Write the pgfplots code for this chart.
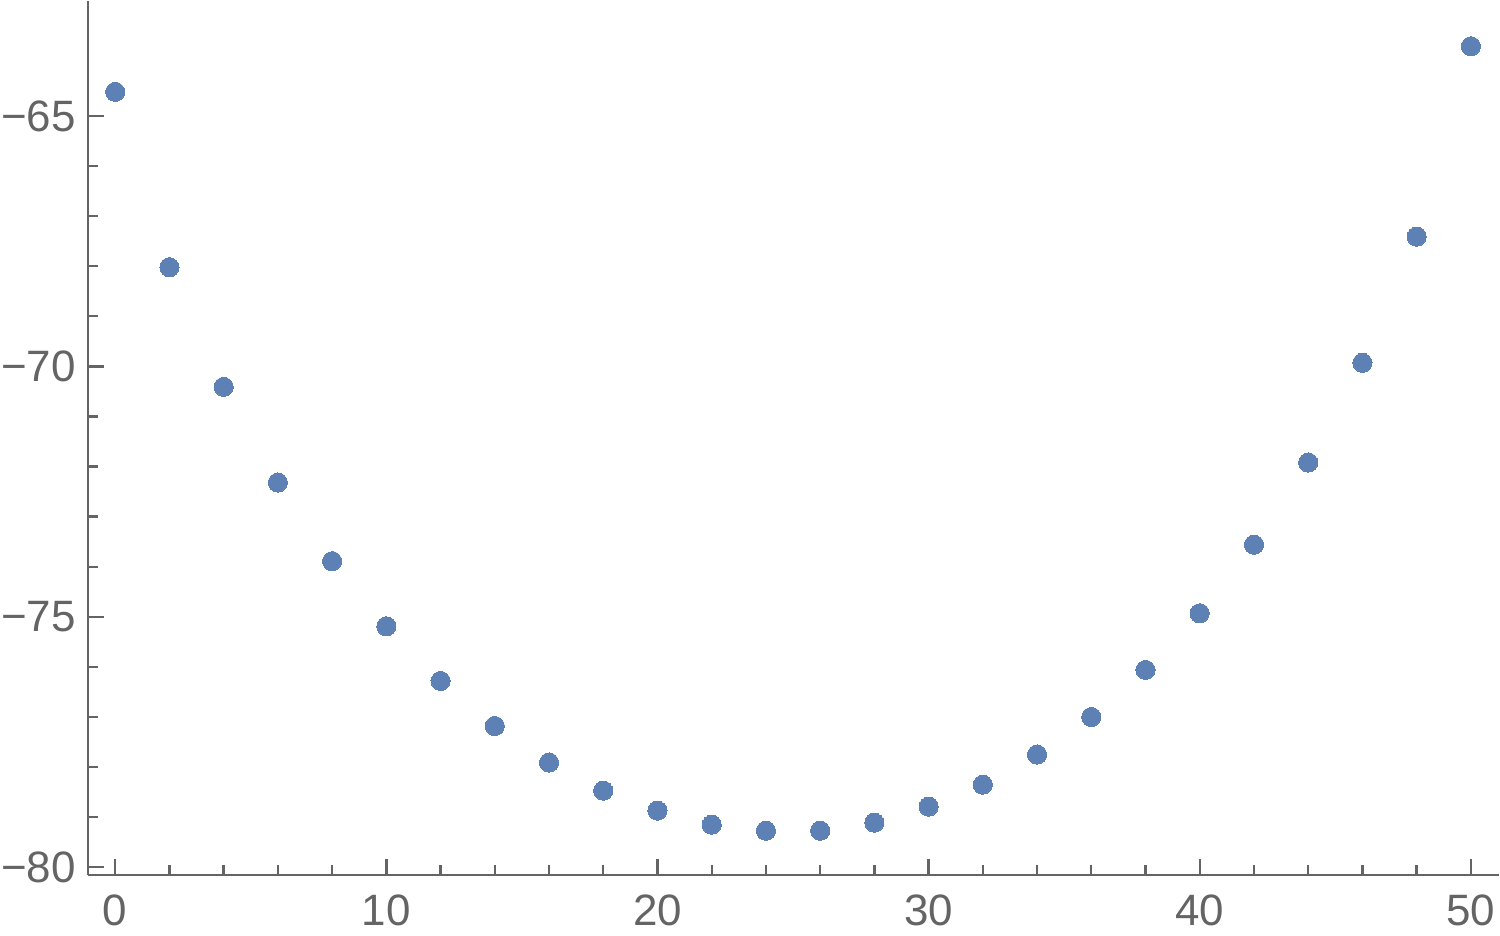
\documentclass[border=0pt]{standalone}
\usepackage{fontspec}
\setmainfont{Liberation Sans}
\usepackage{pgfplots}
\pgfplotsset{compat=1.18}
\definecolor{axgray}{HTML}{646464}
\definecolor{ptblue}{HTML}{5E81B5}

\pgfplotstableread{
x y
0 -64.52
2 -68.02
4 -70.41
6 -72.32
8 -73.89
10 -75.19
12 -76.28
14 -77.18
16 -77.91
18 -78.47
20 -78.87
22 -79.15
24 -79.27
26 -79.27
28 -79.11
30 -78.79
32 -78.35
34 -77.75
36 -77.00
38 -76.06
40 -74.93
42 -73.56
44 -71.92
46 -69.93
48 -67.41
50 -63.61
}\datatable

\begin{document}
\begin{tikzpicture}
\begin{axis}[
  scale only axis,
  width=353.25pt, height=218.75pt,
  xmin=-1, xmax=51.03,
  ymin=-80.15, ymax=-62.71,
  axis lines=left,
  axis line style={draw=axgray, line width=0.6pt, -},
  xtick={0,10,20,30,40,50},
  ytick={-80,-75,-70,-65},
  yticklabels={−80,−75,−70,−65},
  minor x tick num=4,
  minor y tick num=4,
  tick align=inside,
  major tick length=4pt,
  minor tick length=2.4pt,
  tick style={draw=axgray, line width=0.6pt},
  ticklabel style={font=\fontsize{11}{13}\selectfont, text=axgray},
  /pgf/number format/assume math mode=true,
  xticklabel style={inner ysep=2.4pt, inner xsep=0pt, yshift=-2.4pt},
  yticklabel style={inner xsep=0.3pt, inner ysep=0pt, xshift=-2.6pt},
  clip=false,
]
\addplot[only marks, color=ptblue, mark=*, mark size=2.4pt, mark options={fill=ptblue, draw=ptblue, line width=0pt}] table[x=x, y=y] {\datatable};
\end{axis}
\end{tikzpicture}
\end{document}
